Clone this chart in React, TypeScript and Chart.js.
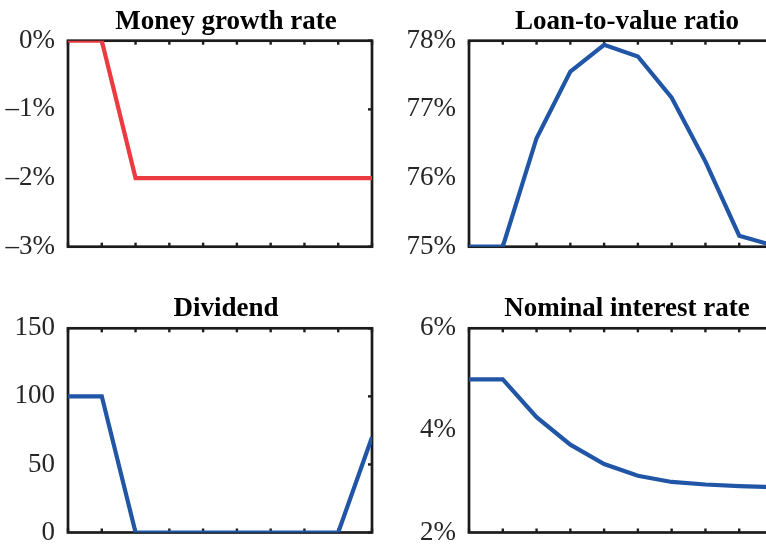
import React, { useEffect, useRef } from "react";
import { Chart, registerables } from "chart.js";

Chart.register(...registerables);

// ---- data ----
const periods = [0, 1, 2, 3, 4, 5, 6, 7, 8, 9];
const moneyGrowth = [0, 0, -2, -2, -2, -2, -2, -2, -2, -2];
const loanToValue = [75, 75, 76.58, 77.55, 77.94, 77.77, 77.17, 76.24, 75.16, 75.02];
const dividend = [100, 100, 0, 0, 0, 0, 0, 0, 0, 70];
const nominalRate = [5, 5, 4.26, 3.72, 3.34, 3.11, 2.99, 2.94, 2.91, 2.89];

const moneyTicks = [-3, -2, -1, 0];
const ltvTicks = [75, 76, 77, 78];
const dividendTicks = [0, 50, 100, 150];
const nominalTicks = [2, 4, 6];

const titles = ["Money growth rate", "Loan-to-value ratio", "Dividend", "Nominal interest rate"];

const RED = "#ec3a41";
const BLUE = "#2156a6";
const AXIS = "#1c1c1c";
const SERIF = '"Liberation Serif", "Times New Roman", serif';

const framePlugin = {
  id: "frame",
  beforeDatasetsDraw(chart: any) {
    const { ctx } = chart;
    const { left, right, top, bottom } = chart.chartArea;
    ctx.save();
    ctx.strokeStyle = AXIS;
    ctx.lineWidth = 2.7;
    ctx.lineCap = "square";
    ctx.strokeRect(left, top, right - left, bottom - top);
    ctx.lineCap = "butt";
    ctx.lineWidth = 2.4;
    const seg = (x1: number, y1: number, x2: number, y2: number) => {
      ctx.beginPath();
      ctx.moveTo(x1, y1);
      ctx.lineTo(x2, y2);
      ctx.stroke();
    };
    const xs = chart.scales.x;
    periods.forEach((p) => {
      const px = xs.getPixelForValue(p);
      seg(px, top, px, top + 4);
      seg(px, bottom, px, bottom - 4);
    });
    const ys = chart.scales.y;
    (ys.ticks || []).forEach((t: any) => {
      const py = ys.getPixelForValue(t.value);
      seg(right, py, right - 4, py);
    });
    ctx.restore();
  },
};

const titlePlugin = {
  id: "ptitle",
  afterDraw(chart: any, _args: any, opts: any) {
    const { ctx } = chart;
    const ca = chart.chartArea;
    ctx.save();
    ctx.font = `bold 27px ${SERIF}`;
    ctx.textAlign = "center";
    ctx.textBaseline = "alphabetic";
    ctx.fillStyle = "#000";
    ctx.fillText(opts.text, (ca.left + ca.right) / 2 + 6, ca.top - 12);
    ctx.restore();
  },
};

type PanelProps = {
  title: string;
  values: number[];
  ticks: number[];
  pct: boolean;
  color: string;
  left: number;
  top: number;
  padTop: number;
  padBottom: number;
};

function fmt(v: number, pct: boolean) {
  if (!pct) return String(v);
  return (v < 0 ? "\u2013" + Math.abs(v) : String(v)) + "%";
}

function Panel({ title, values, ticks, pct, color, left, top, padTop, padBottom }: PanelProps) {
  const ref = useRef<HTMLCanvasElement | null>(null);
  useEffect(() => {
    if (!ref.current) return;
    const chart = new Chart(ref.current, {
      type: "line",
      data: {
        datasets: [
          {
            data: periods.map((p, i) => ({ x: p, y: values[i] })),
            borderColor: color,
            borderWidth: 4.2,
            pointRadius: 0,
            tension: 0,
            fill: false,
            borderJoinStyle: "miter",
          },
        ],
      },
      options: {
        animation: false,
        responsive: false,
        maintainAspectRatio: false,
        layout: { padding: { top: padTop, bottom: padBottom, left: 0, right: 11 } },
        plugins: {
          legend: { display: false },
          tooltip: { enabled: false },
          title: { display: false },
          ptitle: { text: title },
        } as any,
        scales: {
          x: { type: "linear", min: 0, max: 9, display: false },
          y: {
            type: "linear",
            min: ticks[0],
            max: ticks[ticks.length - 1],
            afterBuildTicks: (s: any) => {
              s.ticks = ticks.map((v) => ({ value: v }));
            },
            afterFit: (s: any) => {
              s.width = 68;
              s.paddingTop = 0;
              s.paddingBottom = 0;
            },
            grid: { display: false, drawTicks: false },
            border: { display: false },
            ticks: {
              padding: 13,
              color: "#262626",
              font: { family: SERIF, size: 27 },
              callback: (v: any) => fmt(Number(v), pct),
            },
          },
        } as any,
      },
      plugins: [framePlugin, titlePlugin],
    });
    return () => chart.destroy();
  }, []);
  return (
    <canvas
      ref={ref}
      width={383}
      height={272}
      style={{ position: "absolute", left, top, width: 383, height: 272 }}
    />
  );
}

export default function App() {
  return (
    <div
      style={{
        position: "absolute",
        left: 0,
        top: 0,
        width: 766,
        height: 544,
        overflow: "hidden",
        background: "#fff",
      }}
    >
      <Panel title={titles[0]} values={moneyGrowth} ticks={moneyTicks} pct color={RED} left={0} top={0} padTop={40.7} padBottom={25.3} />
      <Panel title={titles[1]} values={loanToValue} ticks={ltvTicks} pct color={BLUE} left={401} top={0} padTop={40.7} padBottom={25.3} />
      <Panel title={titles[2]} values={dividend} ticks={dividendTicks} pct={false} color={BLUE} left={0} top={272} padTop={56.3} padBottom={11.5} />
      <Panel title={titles[3]} values={nominalRate} ticks={nominalTicks} pct color={BLUE} left={401} top={272} padTop={56.3} padBottom={11.5} />
    </div>
  );
}
